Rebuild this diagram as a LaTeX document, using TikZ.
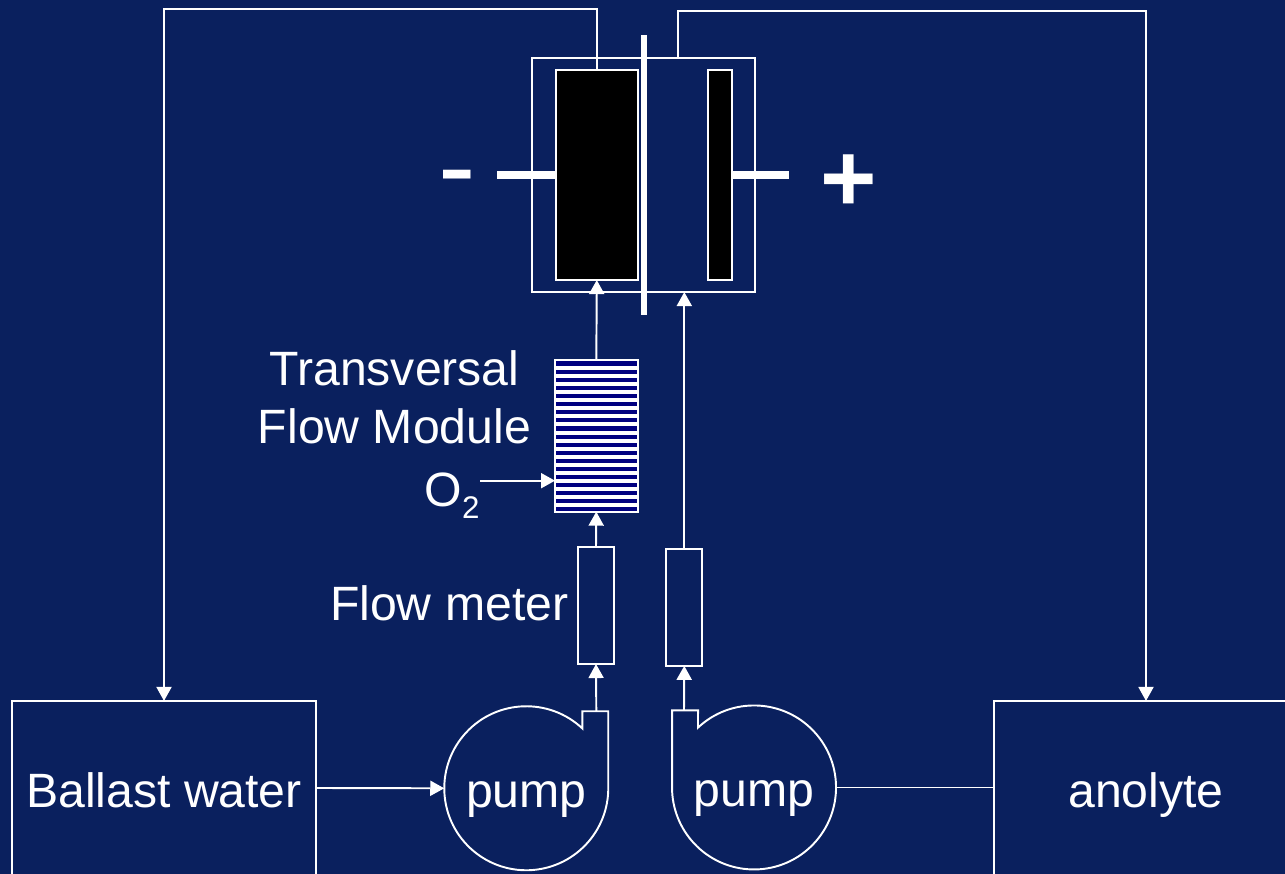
\documentclass[tikz,border=0pt]{standalone}
\usepackage{fontspec}
\setmainfont{Liberation Sans}
\usepackage{xcolor}
\usetikzlibrary{arrows.meta,positioning,shapes.geometric}
\definecolor{SlideBlue}{HTML}{0A205E}
\definecolor{StripeBlue}{HTML}{000080}

\begin{document}
\begin{tikzpicture}[
    x=0.01cm,y=-0.01cm,
    box/.style={draw=white,line width=0.55pt,inner sep=0pt,outer sep=0pt},
    plate/.style={box,fill=black,minimum height=2.1cm},
    meter/.style={box,minimum width=0.36cm,minimum height=1.17cm},
    tank/.style={box,minimum width=3.04cm,minimum height=1.8cm,
                 txt,text height=0.32cm,text depth=0pt},
    pumpbody/.style={circle,minimum size=1.64cm,inner sep=0pt,outer sep=0pt,txt,
                     text height=0.38cm,text depth=0pt},
    txt/.style={text=white,inner sep=0pt,align=center,
                font=\fontsize{13.7}{16.5}\selectfont},
    sign/.style={text=white,inner sep=0pt},
    wire/.style={draw=white,line width=0.55pt},
    flow/.style={wire,-{Triangle[length=0.14cm,width=0.15cm,fill=white]}},
    terminal/.style={draw=white,line width=0.08cm},
    stripe/.style={draw=white,line width=0.04cm}]

    \useasboundingbox (0,0) rectangle (1285,874);
    \clip (0,0) rectangle (1285,874);
    \fill[SlideBlue] (0,0) rectangle (1285,874);

    \node[box,minimum width=2.23cm,minimum height=2.34cm] (cell) at (643.5,175) {};
    \node[plate,minimum width=0.82cm] (negplate) at (596.8,175) {};
    \node[plate,minimum width=0.24cm] (posplate) at (719.7,175) {};
    \node[fill=white,inner sep=0pt,outer sep=0pt,minimum width=0.06cm,
          minimum height=2.8cm] (membrane) at (643.7,175) {};

    \coordinate (negend) at (497,175);
    \coordinate (posend) at (789,175);
    \draw[terminal] (negplate.west) -- (negend);
    \draw[terminal] (posplate.east) -- (posend);
    \node[sign,font=\fontsize{32}{34}\selectfont] (minus) at (457.5,187) {-};
    \node[sign,font=\fontsize{27.5}{30}\selectfont\bfseries] (plus) at (848.8,183) {+};

    \node[box,fill=StripeBlue,minimum width=0.83cm,minimum height=1.517cm]
      (module) at (596.3,435.8) {};
    \foreach \i in {0,...,17}
      \draw[stripe] (module.west |- 0,{368.3+\i*8.03}) -- (module.east |- 0,{368.3+\i*8.03});
    \node[txt] (modtxt) at (394.5,397) {Transversal\\Flow Module};
    \node[txt] (oxy) at (452,496) {O\raisebox{-0.12cm}{\fontsize{8.9}{10}\selectfont 2}};
    \coordinate (oxyin) at (555,480.7);
    \draw[flow] (oxy.east |- oxyin) -- (oxyin);

    \node[meter] (meterA) at (596,605.5) {};
    \node[meter] (meterB) at (684.3,607.3) {};
    \node[txt,left=0.09cm of meterA,yshift=0.02cm] (metertxt) {Flow meter};

    \node[pumpbody] (pumpA) at (526.3,788.3) {pump};
    \node[pumpbody] (pumpB) at (754,787.5) {pump};
    \draw[wire] ([shift={(56,-59.9)}]pumpA.center)
      arc[start angle=-46.9,end angle=-360,radius=82]
      -- ++(0,-77) -- ++(-26,0) -- cycle;
    \draw[wire] ([shift={(-56,-59.9)}]pumpB.center)
      arc[start angle=-133.1,end angle=180,radius=82]
      -- ++(0,-77) -- ++(26,0) -- cycle;
    \coordinate (outA) at (596.3,711.3);
    \coordinate (outB) at (684,710.3);

    \node[tank] (ballast) at (164,791) {Ballast water};
    \node[tank] (anolyte) at (1146,791) {anolyte};

    \draw[flow] (outA) -- (meterA.south);
    \draw[flow] (outB) -- (meterB.south);
    \draw[flow] (meterA.north) -- (module.south);
    \draw[flow] (module.north) -- (negplate.south);
    \draw[flow] (meterB.north) -- (meterB.north |- cell.south);
    \draw[flow] (ballast.east |- 0,788) -- (pumpA.west);
    \draw[wire] (pumpB.east) -- (anolyte.west |- pumpB.east);

    \coordinate (topA) at (597,9);
    \coordinate (topB) at (678,11);
    \draw[flow] (negplate.north) -- (negplate.north |- topA)
      -- (ballast.north |- topA) -- (ballast.north);
    \draw[flow] (topB |- cell.north) -- (topB)
      -- (anolyte.north |- topB) -- (anolyte.north);
  \end{tikzpicture}
\end{document}
